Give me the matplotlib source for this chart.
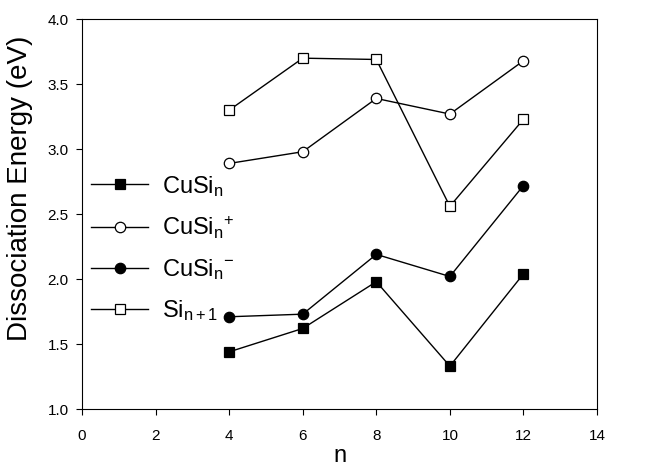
import matplotlib.pyplot as plt

plt.rcParams["font.family"] = ["Liberation Sans", "DejaVu Sans"]
plt.rcParams["mathtext.fontset"] = "custom"
plt.rcParams["mathtext.rm"] = "Liberation Sans"
plt.rcParams["mathtext.it"] = "Liberation Sans"
plt.rcParams["mathtext.default"] = "regular"

n = [4, 6, 8, 10, 12]
cusi = [1.44, 1.62, 1.98, 1.33, 2.04]
cusi_pos = [2.89, 2.98, 3.39, 3.27, 3.68]
cusi_neg = [1.71, 1.73, 2.19, 2.02, 2.72]
si_n1 = [3.30, 3.70, 3.69, 2.56, 3.23]

fig = plt.figure(figsize=(6.49, 4.68), dpi=100)
ax = fig.add_axes([0.1264, 0.126, 0.7935, 0.833])

kw = dict(color="black", lw=1.0, mec="black", mew=0.9)
ax.plot(n, cusi, marker="s", ms=7.2, mfc="black", label=r"CuSi$_n$", **kw)
ax.plot(n, cusi_pos, marker="o", ms=7.5, mfc="white", label=r"CuSi$_n$$^{+}$", **kw)
ax.plot(n, cusi_neg, marker="o", ms=7.5, mfc="black", label=r"CuSi$_n$$^{-}$", **kw)
ax.plot(n, si_n1, marker="s", ms=7.2, mfc="white", label=r"Si$_{n+1}$", **kw)

ax.set_xlim(0, 14)
ax.set_ylim(1.0, 4.0)
ax.set_xticks(range(0, 15, 2))
ax.set_yticks([1.0, 1.5, 2.0, 2.5, 3.0, 3.5, 4.0])
ax.set_yticklabels([f"{v:.1f}" for v in ax.get_yticks()])
ax.tick_params(direction="out", length=4.5, labelsize=11)
ax.tick_params(axis="x", pad=10)
ax.tick_params(axis="y", pad=5)
ax.set_xlabel("n", fontsize=17)
ax.set_ylabel("Dissociation Energy (eV)", fontsize=20)
ax.xaxis.set_label_coords(0.5, -0.093)
ax.yaxis.set_label_coords(-0.095, 0.567)

ax.legend(loc="upper left", bbox_to_anchor=(0.0, 0.628), frameon=False,
          fontsize=17, handlelength=2.4, handletextpad=0.6,
          labelspacing=0.68, borderaxespad=0.0)

fig.savefig("out.png", dpi=100)
